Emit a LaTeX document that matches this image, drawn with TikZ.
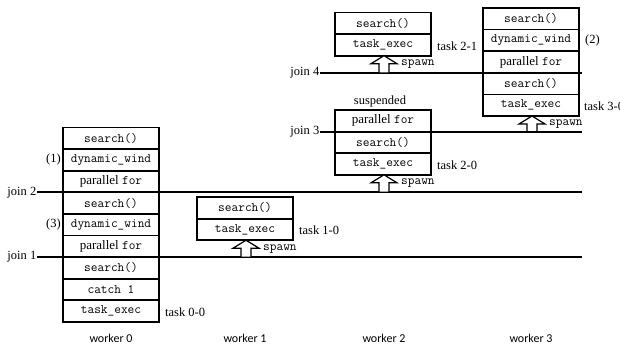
\documentclass[tikz,border=0pt]{standalone}
\usepackage{fontspec}
\setmainfont{Liberation Serif}
\newfontfamily\workerfont{Carlito}
\usetikzlibrary{calc}
\newcommand\mfs{\fontsize{13}{15}\selectfont}
\newcommand\sfs{\fontsize{12.5}{14}\selectfont}
\tikzset{
  row/.style={draw, line width=1.8pt, fill=white, minimum width=96pt, minimum height=21.6pt, inner sep=0pt, outer sep=0pt, font=\mfs\ttfamily, anchor=north west},
  joinline/.style={line width=2.2pt},
  joinlabel/.style={font=\sfs, anchor=east, inner sep=0.5pt},
  tasklabel/.style={font=\sfs, anchor=west, inner sep=0pt},
  spawnline/.style={line width=1.2pt, fill=white, line join=miter},
  spawnlabel/.style={font=\mfs\ttfamily, anchor=west, inner sep=0pt},
  workerlabel/.style={font=\workerfont\fontsize{12}{14}\selectfont, inner sep=0pt},
}
\newcommand\spawnup[3]{% #1 box node, #2 gap height, #3 name of label
  \draw[spawnline] ($(#1.south)+(1,0)$) -- ++(13,8) -- ++(-8,0) -- ++(0,{#2-8}) -- ++(-10,0) -- ++(0,{8-#2}) -- ++(-8,0) -- cycle;
  \node[spawnlabel] (#3) at ($(#1.south)+(18,8.5)$) {spawn};
}
\begin{document}
\begin{tikzpicture}[x=1pt,y=-1pt]
\useasboundingbox (0,0) rectangle (620,345);
% join lines
\coordinate (j1s) at (37,257);  \coordinate (j1e) at (582,257);
\coordinate (j2s) at (37,192.3);  \coordinate (j2e) at (582,192.3);
\coordinate (j3s) at (320,131.6); \coordinate (j3e) at (582,131.6);
\coordinate (j4s) at (320,72.8); \coordinate (j4e) at (582,72.8);
\draw[joinline] (j1s) -- (j1e);
\draw[joinline] (j2s) -- (j2e);
\draw[joinline] (j3s) -- (j3e);
\draw[joinline] (j4s) -- (j4e);
\node[joinlabel] (jl1) at (j1s) {join 1};
\node[joinlabel] (jl2) at (j2s) {join 2};
\node[joinlabel] (jl3) at (j3s) {join 3};
\node[joinlabel] (jl4) at (j4s) {join 4};
% worker 0
\node[row] (a1) at (63,127.5) {search()};
\node[row] (a2) at (a1.south west) {dynamic\_wind};
\node[row] (a3) at (a2.south west) {\rmfamily parallel \ttfamily for};
\node[row] (a4) at (a3.south west) {search()};
\node[row] (a5) at (a4.south west) {dynamic\_wind};
\node[row] (a6) at (a5.south west) {\rmfamily parallel \ttfamily for};
\node[row] (a7) at (a6.south west) {search()};
\node[row] (a8) at (a7.south west) {catch 1};
\node[row] (a9) at (a8.south west) {task\_exec};
\node[font=\sfs, anchor=east, inner sep=0pt] (l1) at ($(a2.west)+(-2,0)$) {(1)};
\node[font=\sfs, anchor=east, inner sep=0pt] (l3) at ($(a5.west)+(-2,0)$) {(3)};
\node[tasklabel] (t00) at ($(a9.east)+(6,1)$) {task 0-0};
% worker 1
\node[row] (b1) at (197,197) {search()};
\node[row] (b2) at (b1.south west) {task\_exec};
\node[tasklabel] (t10) at ($(b2.east)+(6,1)$) {task 1-0};
\spawnup{b2}{17}{s1}
% worker 2 upper
\node[row] (c1) at (335,12.5) {search()};
\node[row] (c2) at (c1.south west) {task\_exec};
\node[tasklabel] (t21) at ($(c2.east)+(6,1)$) {task 2-1};
\spawnup{c2}{17.2}{s2}
% worker 2 lower
\node[row] (d1) at (335,110) {\rmfamily parallel \ttfamily for};
\node[row] (d2) at (d1.south west) {search()};
\node[row] (d3) at (d2.south west) {task\_exec};
\node[font=\sfs, inner sep=0pt, anchor=south] (susp) at ($(d1.north)+(-3,-3)$) {suspended};
\node[tasklabel] (t20) at ($(d3.east)+(6,1)$) {task 2-0};
\spawnup{d3}{17.5}{s3}
% worker 3
\node[row] (e1) at (483,8) {search()};
\node[row] (e2) at (e1.south west) {dynamic\_wind};
\node[row] (e3) at (e2.south west) {\rmfamily parallel \ttfamily for};
\node[row] (e4) at (e3.south west) {search()};
\node[row] (e5) at (e4.south west) {task\_exec};
\node[font=\sfs, anchor=west, inner sep=0pt] (l2) at ($(e2.east)+(6,0)$) {(2)};
\node[tasklabel] (t30) at ($(e5.east)+(5,1)$) {task 3-0};
\spawnup{e5}{15.6}{s4}
% worker labels
\node[workerlabel] (w0) at (111,338) {worker 0};
\node[workerlabel] (w1) at (245,338) {worker 1};
\node[workerlabel] (w2) at (384,338) {worker 2};
\node[workerlabel] (w3) at (531,338) {worker 3};
\end{tikzpicture}
\end{document}
